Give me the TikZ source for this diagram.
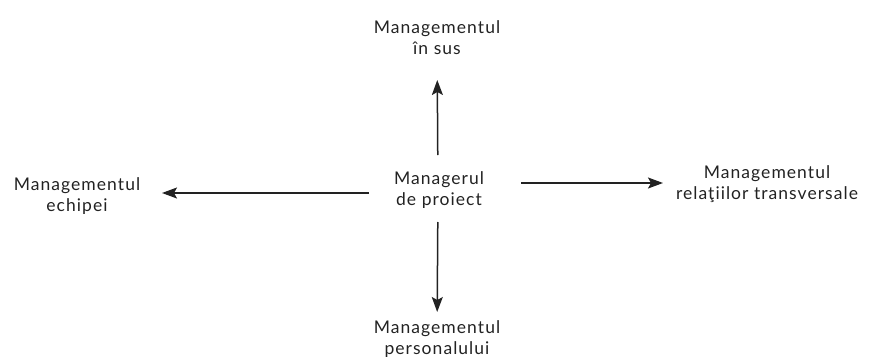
\documentclass[tikz,border=0pt]{standalone}
\usepackage{fontspec}
\setmainfont{Lato}[LetterSpace=6]
\usetikzlibrary{arrows.meta}
\definecolor{ink}{HTML}{222222}
\begin{document}
\begin{tikzpicture}[x=1pt,y=-1pt,
  lbl/.style={align=center,inner sep=0pt,text=ink,font=\fontsize{17.5}{21}\selectfont},
  arr/.style={draw=ink,line width=1.5pt,-{Stealth[length=15pt,width=11pt,inset=3pt]}}]
\useasboundingbox (0,0) rectangle (869,361);
\node[lbl] (c) at (439,190) {Managerul\\de proiect};
\node[lbl] (t) at (437,38) {Managementul\\în sus};
\node[lbl] (b) at (437,339) {Managementul\\personalului};
\node[lbl] (l) at (77,196) {Managementul\\echipei};
\node[lbl] (r) at (767,184) {Managementul\\relaţiilor transversale};
\draw[arr,shorten <=35pt,shorten >=42pt] ([xshift=-1pt]c.center) -- (t.center);
\draw[arr,shorten <=32pt,shorten >=27pt] ([xshift=-1pt]c.center) -- (b.center);
\draw[arr,shorten <=70pt,shorten >=85pt] ([yshift=-3pt]c.center) -- ([yshift=-3pt]c.center -| l.center);
\draw[arr,shorten <=82pt,shorten >=104pt] ([yshift=7pt]c.center) -- ([yshift=7pt]c.center -| r.center);
\end{tikzpicture}
\end{document}
